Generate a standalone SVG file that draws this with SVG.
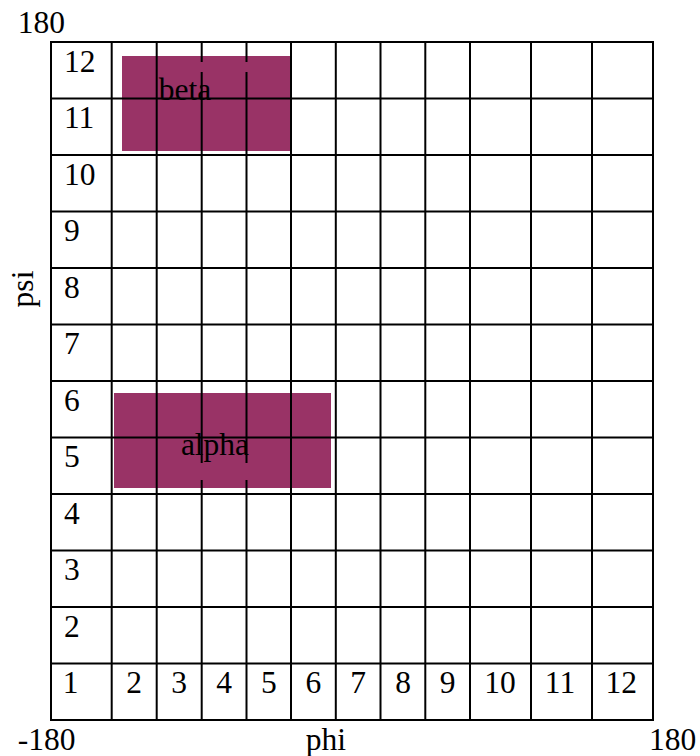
<svg xmlns="http://www.w3.org/2000/svg" width="700" height="756" viewBox="0 0 700 756">
<style>
text{font-family:"Liberation Serif","Times New Roman",serif;font-size:31.5px;fill:#000}
.c{text-anchor:middle}
.s{text-anchor:start}
.g line{stroke:#000;stroke-width:2}
.reg{fill:#993366}
</style>
<rect width="700" height="756" fill="#fff"/>
<g id="region-beta"><rect class="reg" x="122" y="56" width="168" height="95"/></g>
<g id="region-alpha"><rect class="reg" x="114" y="393" width="217" height="95"/></g>
<g id="grid" class="g">
<line x1="51" y1="42" x2="51" y2="720"/>
<line x1="111.7" y1="42" x2="111.7" y2="720"/>
<line x1="156.7" y1="42" x2="156.7" y2="720"/>
<line x1="201.7" y1="42" x2="201.7" y2="62"/>
<line x1="201.7" y1="72" x2="201.7" y2="463"/>
<line x1="201.7" y1="480" x2="201.7" y2="720"/>
<line x1="246.5" y1="42" x2="246.5" y2="62"/>
<line x1="246.5" y1="72" x2="246.5" y2="463"/>
<line x1="246.5" y1="480" x2="246.5" y2="720"/>
<line x1="291" y1="42" x2="291" y2="720"/>
<line x1="335.8" y1="42" x2="335.8" y2="720"/>
<line x1="380.5" y1="42" x2="380.5" y2="720"/>
<line x1="425.3" y1="42" x2="425.3" y2="720"/>
<line x1="470" y1="42" x2="470" y2="720"/>
<line x1="531" y1="42" x2="531" y2="720"/>
<line x1="592" y1="42" x2="592" y2="720"/>
<line x1="653" y1="42" x2="653" y2="720"/>
<line x1="50" y1="42" x2="654" y2="42"/>
<line x1="50" y1="98.5" x2="654" y2="98.5"/>
<line x1="50" y1="155" x2="654" y2="155"/>
<line x1="50" y1="211.5" x2="654" y2="211.5"/>
<line x1="50" y1="268" x2="654" y2="268"/>
<line x1="50" y1="324.5" x2="654" y2="324.5"/>
<line x1="50" y1="381" x2="654" y2="381"/>
<line x1="50" y1="437.5" x2="654" y2="437.5"/>
<line x1="50" y1="494" x2="654" y2="494"/>
<line x1="50" y1="550.5" x2="654" y2="550.5"/>
<line x1="50" y1="607" x2="654" y2="607"/>
<line x1="50" y1="663.5" x2="654" y2="663.5"/>
<line x1="50" y1="720" x2="654" y2="720"/>
</g>
<g id="psi-labels">
<text class="s" x="64" y="71.5">12</text>
<text class="s" x="64" y="128">11</text>
<text class="s" x="64" y="184.5">10</text>
<text class="s" x="64" y="241">9</text>
<text class="s" x="64" y="297.5">8</text>
<text class="s" x="64" y="354">7</text>
<text class="s" x="64" y="410.5">6</text>
<text class="s" x="64" y="467">5</text>
<text class="s" x="64" y="523.5">4</text>
<text class="s" x="64" y="580">3</text>
<text class="s" x="64" y="636.5">2</text>
</g>
<g id="phi-labels">
<text class="c" x="70.5" y="693">1</text>
<text class="c" x="134.2" y="693">2</text>
<text class="c" x="179.2" y="693">3</text>
<text class="c" x="224" y="693">4</text>
<text class="c" x="268.8" y="693">5</text>
<text class="c" x="313.4" y="693">6</text>
<text class="c" x="358.2" y="693">7</text>
<text class="c" x="403" y="693">8</text>
<text class="c" x="447.7" y="693">9</text>
<text class="c" x="500" y="693">10</text>
<text class="c" x="560" y="693">11</text>
<text class="c" x="621.3" y="693">12</text>
</g>
<g id="axis-labels">
<text class="c" x="41.3" y="33">180</text>
<text class="c" x="46.7" y="750">-180</text>
<text class="c" x="672.5" y="750">180</text>
<text class="c" x="325.8" y="750">phi</text>
<text class="c" transform="translate(33,289) rotate(-90)">psi</text>
</g>
<g id="region-labels">
<text class="c" x="185" y="100">beta</text>
<text class="c" x="215" y="455">alpha</text>
</g>
</svg>
